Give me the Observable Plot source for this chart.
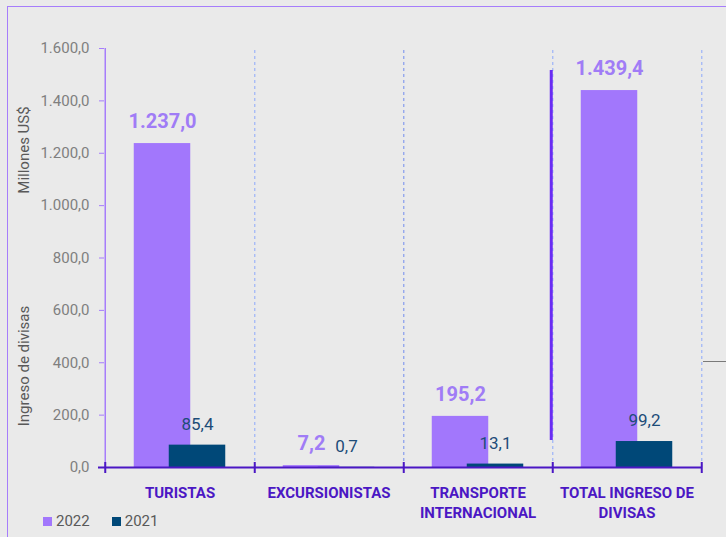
<!DOCTYPE html>
<html>
<head>
<meta charset="utf-8">
<script src="https://cdn.jsdelivr.net/npm/d3@7"></script>
<script src="https://cdn.jsdelivr.net/npm/@observablehq/plot@0.6"></script>
<style>
  html, body { margin: 0; padding: 0; background: #eaeaea; }
  #wrap { position: relative; width: 726px; height: 537px; background: #eaeaea; overflow: hidden; font-family: Roboto, "Noto Sans", sans-serif; }
  #frame { position: absolute; left: 7px; top: 6px; width: 740px; height: 560px; border: 1.5px solid #a67dfb; box-sizing: border-box; pointer-events: none; }
  .ytitle { position: absolute; color: #595959; font-size: 15px; white-space: nowrap; transform: translate(-50%, -50%) rotate(-90deg); }
  #legend { position: absolute; left: 43px; top: 512px; display: flex; align-items: center; font-size: 15px; color: #595959; }
  #legend .sw { width: 9px; height: 9px; display: inline-block; margin-right: 4px; }
  #legend .item { display: flex; align-items: center; margin-right: 22px; }
  #stub { position: absolute; left: 703px; top: 361px; width: 23px; height: 1px; background: #7a7a7a; }
</style>
</head>
<body>
<div id="wrap">
  <div id="frame"></div>
  <div class="ytitle" style="left:24px; top:150px;">Millones US$</div>
  <div class="ytitle" style="left:24px; top:366px;">Ingreso de divisas</div>
  <div id="stub"></div>
  <div id="legend"></div>
</div>
<script>
const categories = ["TURISTAS", "EXCURSIONISTAS", "TRANSPORTE INTERNACIONAL", "TOTAL INGRESO DE DIVISAS"];
const tickLabels = ["TURISTAS", "EXCURSIONISTAS", "TRANSPORTE\nINTERNACIONAL", "TOTAL INGRESO DE\nDIVISAS"];
const values2022 = [1237.0, 7.2, 195.2, 1439.4];
const values2021 = [85.4, 0.7, 13.1, 99.2];
const yTicks = [0, 200, 400, 600, 800, 1000, 1200, 1400, 1600];
const seriesNames = ["2022", "2021"];
const seriesColors = ["#a277fc", "#004878"];
const separator = [{cat: "TOTAL INGRESO DE DIVISAS", from: 103, to: 1516}];
const gridColors = ["#a3b8f8", "#8ea3ee", "#a3b8f8", "#a3b8f8"];

const fmt = d3.formatLocale({decimal: ",", thousands: ".", grouping: [3], currency: ["", ""]}).format(",.1f");

const W = 726, H = 537, mL = 104, mR = 24, mT = 48, mB = 70;
const bw = (W - mL - mR) / categories.length;
const off = 17.5;

const rows2022 = categories.map((c, i) => ({cat: c, v: values2022[i]}));
const rows2021 = categories.map((c, i) => ({cat: c, v: values2021[i]}));
const labelOf = new Map(categories.map((c, i) => [c, tickLabels[i]]));

const chart = Plot.plot({
  width: W, height: H,
  marginLeft: mL, marginRight: mR, marginTop: mT, marginBottom: mB,
  style: {background: "transparent", fontFamily: "Roboto, 'Noto Sans', sans-serif", overflow: "visible"},
  x: {domain: categories, padding: 0, axis: null, label: null},
  y: {domain: [0, 1600], axis: null, label: null},
  marks: [
    Plot.ruleX(categories, {x: d => d, dx: bw / 2, y1: 0, y2: 1600, stroke: (d, i) => gridColors[i], strokeWidth: 1.3, strokeDasharray: "3,3"}),
    Plot.ruleX([categories[0]], {x: d => d, dx: -bw / 2, y1: 0, y2: 1600, stroke: "#a67dfb", strokeWidth: 1.5}),
    Plot.axisY({ticks: yTicks, tickFormat: fmt, tickSize: 5, tickPadding: 10, stroke: "#a67dfb", fill: "#7f7f7f", fontSize: 15, anchor: "left", label: null}),
    Plot.barY(rows2022, {x: "cat", y: "v", fill: seriesColors[0], insetLeft: bw / 2 - off - 28.5, insetRight: bw / 2 + off - 28.5}),
    Plot.barY(rows2021, {x: "cat", y: "v", fill: seriesColors[1], insetLeft: bw / 2 + off - 28.5, insetRight: bw / 2 - off - 28.5}),
    Plot.ruleX(separator, {x: "cat", dx: -bw / 2 - 1, y1: "from", y2: "to", stroke: "#6a2cf3", strokeWidth: 3}),
    Plot.ruleY([0], {stroke: "#4b17c4", strokeWidth: 2, insetLeft: -6}),
    Plot.ruleX(categories, {x: d => d, dx: bw / 2, y1: 0, y2: 0, insetTop: -5, insetBottom: -6, stroke: "#4b17c4", strokeWidth: 2}),
    Plot.ruleX([categories[0]], {x: d => d, dx: -bw / 2, y1: 0, y2: 0, insetTop: -5, insetBottom: -6, stroke: "#4b17c4", strokeWidth: 2}),
    Plot.axisX({domain: categories, tickSize: 0, tickPadding: 16, tickFormat: d => labelOf.get(d), fill: "#4b17c4", fontSize: 15, fontWeight: "bold", lineHeight: 1.35, label: null}),
    Plot.text(rows2022, {x: "cat", y: "v", text: d => fmt(d.v), dx: -off, dy: -22, fill: "#a07cf6", fontSize: 20, fontWeight: "bold"}),
    Plot.text(rows2021, {x: "cat", y: "v", text: d => fmt(d.v), dx: off, dy: -21, fill: "#1d4c78", fontSize: 17})
  ]
});
document.getElementById("wrap").insertBefore(chart, document.getElementById("frame"));
chart.style.position = "absolute";
chart.style.left = "0px";
chart.style.top = "0px";

const legend = document.getElementById("legend");
seriesNames.forEach((n, i) => {
  const item = document.createElement("span");
  item.className = "item";
  const sw = document.createElement("span");
  sw.className = "sw";
  sw.style.background = seriesColors[i];
  item.appendChild(sw);
  item.appendChild(document.createTextNode(n));
  legend.appendChild(item);
});
</script>
</body>
</html>
